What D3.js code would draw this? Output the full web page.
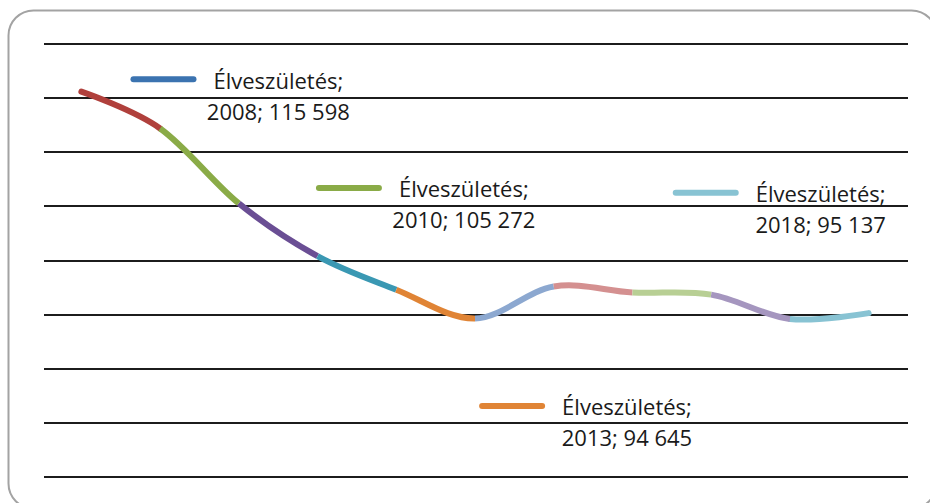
<!DOCTYPE html>
<html>
<head>
<meta charset="utf-8">
<script src="https://cdn.jsdelivr.net/npm/d3@7"></script>
<style>
  body { margin: 0; background: #fff; }
  svg { display: block; }
  .lbl { font-family: "Open Sans", sans-serif; font-size: 22px; fill: #1a1a1a; }
</style>
</head>
<body>
<svg id="chart" width="930" height="503"></svg>
<script>
// live births by year (labelled years are exact)
const years = [2008, 2009, 2010, 2011, 2012, 2013, 2014, 2015, 2016, 2017, 2018];
const births = [115598, 112200, 105272, 100400, 97300, 94645, 97600, 97050, 96850, 94600, 95137];
// excel "vary colors by point" - one colour per point, the segment ending there takes it
const pointColors = ["#3b73b0", "#b0403c", "#8aab47", "#6a4e94", "#3a98b3", "#e08435",
                     "#8ca8d0", "#d49090", "#b8cf94", "#a596bf", "#88c3d3"];
const gridTicks = [80000, 85000, 90000, 95000, 100000, 105000, 110000, 115000, 120000];
const seriesName = "Élveszületés";
const labelYears = [2008, 2010, 2013, 2018];
// where each label was dragged to, relative to its point (center x, first baseline)
const labelShift = [[197, -3], [225, -6], [152, 97], [-48, -111]];

const svg = d3.select("#chart");

const x = d3.scalePoint().domain(years).range([42, 908]).padding(0.5);
const y = d3.scaleLinear().domain([80000, 120000]).range([477, 44]);

const fmt = d3.formatLocale({ decimal: ",", thousands: " ", grouping: [3], currency: ["", ""] }).format(",d");

// chart area frame
svg.append("rect")
  .attr("x", 8.5).attr("y", 10.5)
  .attr("width", 928).attr("height", 498)
  .attr("rx", 25).attr("ry", 25)
  .attr("fill", "#fff")
  .attr("stroke", "#a3a3a3")
  .attr("stroke-width", 2);

// gridlines
svg.append("g").selectAll("line")
  .data(gridTicks)
  .enter().append("line")
  .attr("x1", 44).attr("x2", 908)
  .attr("y1", function (d) { return Math.round(y(d)); })
  .attr("y2", function (d) { return Math.round(y(d)); })
  .attr("stroke", "#1c1c1c")
  .attr("stroke-width", 2);

// split the smoothed line into one path per segment:
// a context that starts a new path on each bezier piece
const pieces = [];
let cur = [0, 0];
const splitter = {
  moveTo: function (a, b) { cur = [a, b]; },
  lineTo: function (a, b) {
    const p = d3.path(); p.moveTo(cur[0], cur[1]); p.lineTo(a, b);
    pieces.push(p.toString()); cur = [a, b];
  },
  bezierCurveTo: function (a, b, c, d, e, f) {
    const p = d3.path(); p.moveTo(cur[0], cur[1]); p.bezierCurveTo(a, b, c, d, e, f);
    pieces.push(p.toString()); cur = [e, f];
  },
  closePath: function () {}
};

const pts = years.map(function (yr, i) { return [x(yr), y(births[i])]; });
d3.line().curve(d3.curveCardinal.tension(0)).context(splitter)(pts);

const segs = pieces.map(function (d, i) { return { d: d, i: i, color: pointColors[i + 1] }; });
const last = segs.length - 1;
// end pieces first (round caps), then the middle ones on top
const order = segs.filter(function (s) { return s.i === 0 || s.i === last; })
  .concat(segs.filter(function (s) { return s.i !== 0 && s.i !== last; }));

svg.append("g").selectAll("path")
  .data(order)
  .enter().append("path")
  .attr("d", function (s) { return s.d; })
  .attr("fill", "none")
  .attr("stroke", function (s) { return s.color; })
  .attr("stroke-width", 6)
  .attr("stroke-linecap", function (s) { return (s.i === 0 || s.i === last) ? "round" : "butt"; });

// data labels with legend key
labelYears.forEach(function (yr, k) {
  const i = years.indexOf(yr);
  const cx = x(yr) + labelShift[k][0];
  const by = y(births[i]) + labelShift[k][1];
  const g = svg.append("g");

  const t1 = g.append("text").attr("class", "lbl")
    .attr("x", cx).attr("y", by)
    .attr("text-anchor", "middle")
    .text(seriesName + ";");
  g.append("text").attr("class", "lbl")
    .attr("x", cx).attr("y", by + 31)
    .attr("text-anchor", "middle")
    .text(yr + "; " + fmt(births[i]));

  const left = cx - t1.node().getComputedTextLength() / 2;
  g.append("line")
    .attr("x1", left - 17 - 63).attr("x2", left - 17 - 3)
    .attr("y1", by - 9.5).attr("y2", by - 9.5)
    .attr("stroke", pointColors[i])
    .attr("stroke-width", 6)
    .attr("stroke-linecap", "round");
});
</script>
</body>
</html>
